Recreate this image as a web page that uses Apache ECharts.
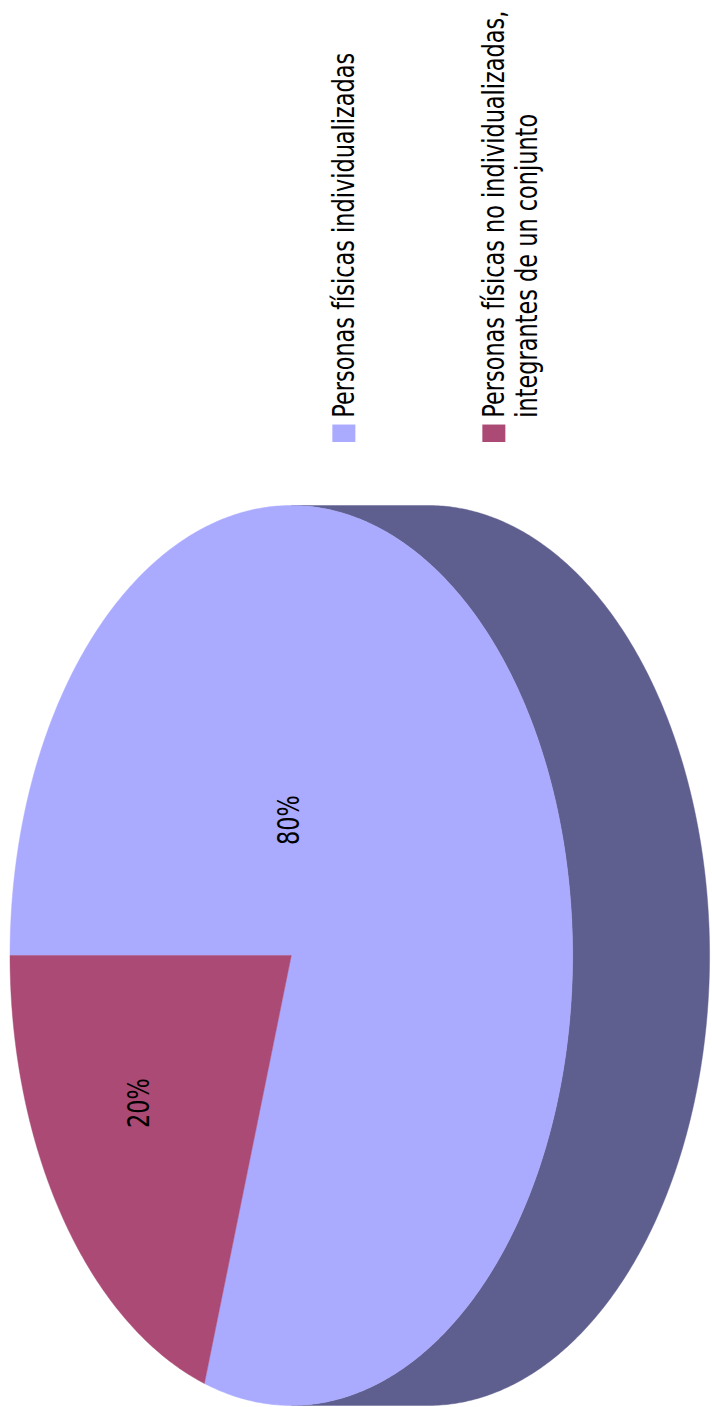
<!DOCTYPE html>
<html>
<head>
<meta charset="utf-8">
<script src="https://cdn.jsdelivr.net/npm/echarts@6/dist/echarts.min.js"></script>
<style>
  html, body { margin: 0; padding: 0; background: #ffffff; overflow: hidden; }
  #wrap { position: absolute; left: 0; top: 0; width: 712px; height: 1407px; overflow: hidden; }
  #chart {
    position: absolute; left: 0; top: 0;
    width: 1851px; height: 712px;
    transform-origin: 0 0;
    transform: translateY(1407px) rotate(-90deg) scaleX(0.76013);
  }
</style>
</head>
<body>
<div id="wrap"><div id="chart"></div></div>
<script>
// ---- data ----
const categories = [
  'Personas físicas individualizadas',
  'Personas físicas no individualizadas, integrantes de un conjunto'
];
const values = [80, 20];

// ---- styles ----
const topColors = ['#AAAAFF', '#AA4A75'];
const sideColors = ['#5F5F8F', '#6A2E49'];
const FONT = 'DejaVu Sans';
const FONT_SIZE = 29.5;
const LINE_H = 33.3;

// pie layout (chart frame before the page rotation)
const PIE = { cx: 594, cy: 291.3, rx: 592, ry: 281.3, depth: 137 };
// label anchors as fractions of the radii
const labelAt = [[0.301, -0.008], [-0.328, -0.541]];

const total = values.reduce((a, b) => a + b, 0);

function pt(t, dz) {
  return [PIE.cx + PIE.rx * Math.sin(t), PIE.cy - PIE.ry * Math.cos(t) + (dz || 0)];
}

function arcPoints(a0, a1, dz) {
  const pts = [];
  const n = Math.max(2, Math.ceil((a1 - a0) / (Math.PI / 360)));
  for (let k = 0; k <= n; k++) pts.push(pt(a0 + (a1 - a0) * k / n, dz));
  return pts;
}

function makeRender(i) {
  return function (params, api) {
    const v = api.value(0);
    let before = 0;
    for (let k = 0; k < i; k++) before += values[k];
    const a0 = before / total * 2 * Math.PI;
    const a1 = (before + v) / total * 2 * Math.PI;
    const children = [];
    // side wall (visible lower half)
    const s0 = Math.max(a0, Math.PI / 2), s1 = Math.min(a1, 1.5 * Math.PI);
    if (s1 > s0) {
      const upper = arcPoints(s0, s1, 0);
      const lower = arcPoints(s0, s1, PIE.depth).reverse();
      children.push({
        type: 'polygon',
        shape: { points: upper.concat(lower) },
        style: { fill: sideColors[i], stroke: sideColors[i], lineWidth: 0.5 }
      });
    }
    // top face
    const topPts = [[PIE.cx, PIE.cy]].concat(arcPoints(a0, a1, 0));
    children.push({
      type: 'polygon',
      shape: { points: topPts },
      style: { fill: topColors[i], stroke: topColors[i], lineWidth: 0.5 }
    });
    // label
    children.push({
      type: 'text',
      x: PIE.cx + labelAt[i][0] * PIE.rx,
      y: PIE.cy + labelAt[i][1] * PIE.ry,
      style: {
        text: Math.round(v / total * 100) + '%',
        fill: '#000000',
        font: FONT_SIZE + 'px "' + FONT + '"',
        align: 'center',
        verticalAlign: 'middle'
      }
    });
    return { type: 'group', children: children };
  };
}

const chart = echarts.init(document.getElementById('chart'), null, {
  renderer: 'svg', width: 1851, height: 712
});

const series = categories.map((name, i) => ({
  type: 'custom',
  name: name,
  coordinateSystem: 'none',
  itemStyle: { color: topColors[i] },
  data: [[values[i]]],
  renderItem: makeRender(i),
  silent: true
}));

const richText = {
  a: { fontFamily: FONT, fontSize: FONT_SIZE, lineHeight: LINE_H, color: '#000000', padding: [0, 0, 0, 4] },
  p: { fontFamily: FONT, fontSize: FONT_SIZE, lineHeight: LINE_H, color: '#000000' }
};

const legendBase = {
  orient: 'vertical',
  padding: 0,
  icon: 'rect',
  itemWidth: 23,
  itemHeight: 23,
  selectedMode: false,
  left: 1269.5,
  textStyle: { fontFamily: FONT, fontSize: FONT_SIZE, color: '#000000', rich: richText }
};

chart.setOption({
  animation: false,
  backgroundColor: '#ffffff',
  legend: [
    Object.assign({}, legendBase, {
      data: [categories[0]],
      top: 334 - (LINE_H - 23) / 2,
      formatter: n => '{a|' + n + '}'
    }),
    Object.assign({}, legendBase, {
      data: [categories[1]],
      top: 484 - (3 * LINE_H - 23) / 2,
      formatter: n => '{p| }\n{a|' + n.replace(', ', ',}\n{a|') + '}'
    })
  ],
  series: series
});
</script>
</body>
</html>
